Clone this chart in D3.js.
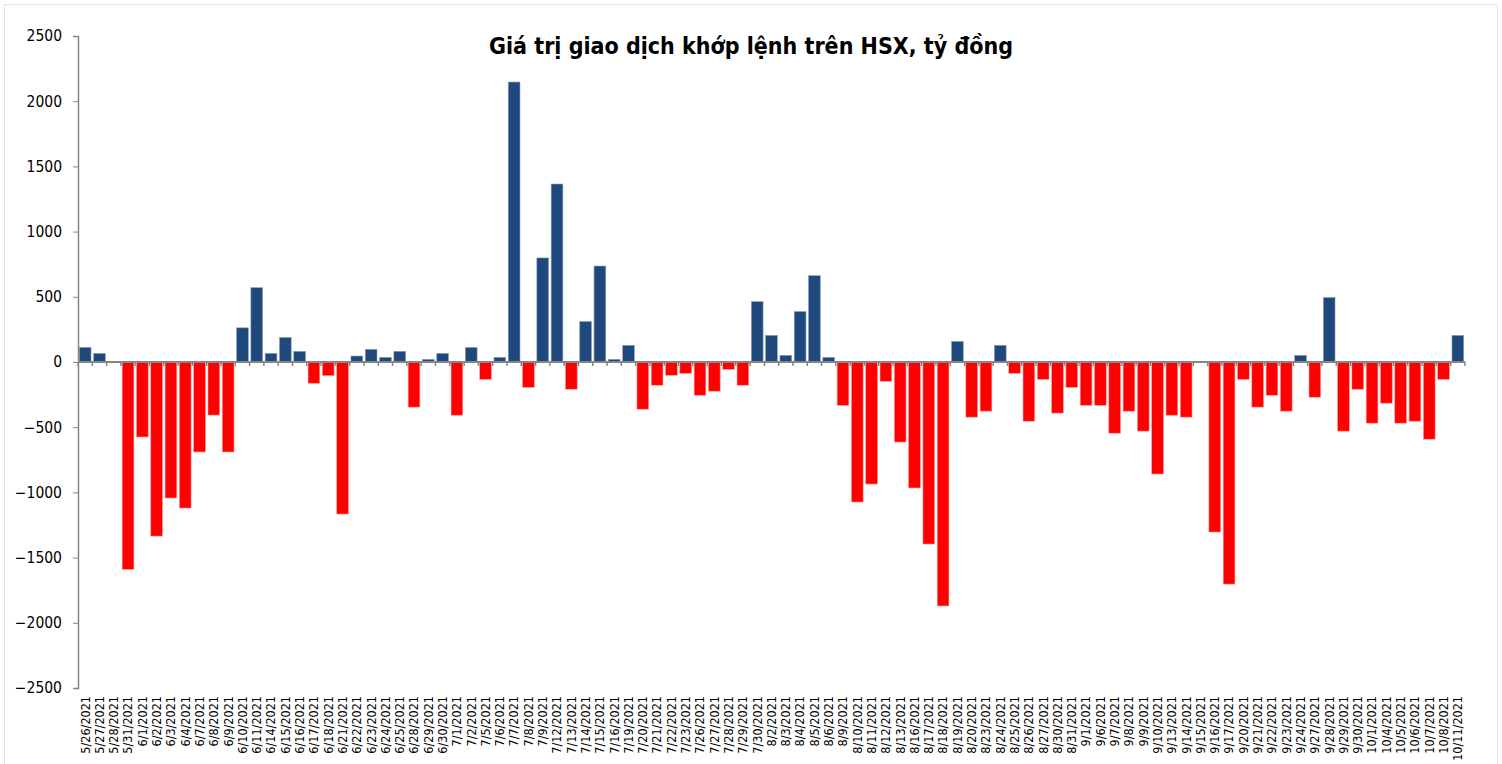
<!DOCTYPE html>
<html lang="vi">
<head>
<meta charset="utf-8">
<style>
body {
  margin: 0;
  background: #fff;
}
svg {
  display: block;
}
.axis text {
  fill: #000;
  font-family: "DejaVu Sans Condensed", "DejaVu Sans", sans-serif;
}
.axis path, .axis line {
  stroke: #868686;
}
.title {
  font: bold 23px "DejaVu Sans Condensed", "DejaVu Sans", sans-serif;
  fill: #000;
}
</style>
</head>
<body>
<svg width="1502" height="764"></svg>
<script src="https://cdn.jsdelivr.net/npm/d3@7/dist/d3.min.js"></script>
<script>
  // ngày giao dịch
  var dates = [
    "5/26/2021", "5/27/2021", "5/28/2021", "5/31/2021",
    "6/1/2021", "6/2/2021", "6/3/2021", "6/4/2021", "6/7/2021", "6/8/2021", "6/9/2021",
    "6/10/2021", "6/11/2021", "6/14/2021", "6/15/2021", "6/16/2021", "6/17/2021", "6/18/2021",
    "6/21/2021", "6/22/2021", "6/23/2021", "6/24/2021", "6/25/2021", "6/28/2021", "6/29/2021", "6/30/2021",
    "7/1/2021", "7/2/2021", "7/5/2021", "7/6/2021", "7/7/2021", "7/8/2021", "7/9/2021",
    "7/12/2021", "7/13/2021", "7/14/2021", "7/15/2021", "7/16/2021", "7/19/2021", "7/20/2021",
    "7/21/2021", "7/22/2021", "7/23/2021", "7/26/2021", "7/27/2021", "7/28/2021", "7/29/2021", "7/30/2021",
    "8/2/2021", "8/3/2021", "8/4/2021", "8/5/2021", "8/6/2021", "8/9/2021", "8/10/2021",
    "8/11/2021", "8/12/2021", "8/13/2021", "8/16/2021", "8/17/2021", "8/18/2021", "8/19/2021",
    "8/20/2021", "8/23/2021", "8/24/2021", "8/25/2021", "8/26/2021", "8/27/2021", "8/30/2021", "8/31/2021",
    "9/1/2021", "9/6/2021", "9/7/2021", "9/8/2021", "9/9/2021", "9/10/2021", "9/13/2021",
    "9/14/2021", "9/15/2021", "9/16/2021", "9/17/2021", "9/20/2021", "9/21/2021", "9/22/2021",
    "9/23/2021", "9/24/2021", "9/27/2021", "9/28/2021", "9/29/2021", "9/30/2021",
    "10/1/2021", "10/4/2021", "10/5/2021", "10/6/2021", "10/7/2021", "10/8/2021", "10/11/2021"
  ];

  // giá trị mua/bán ròng, tỷ đồng
  var values = [
    112, 66, -5, -1590,
    -575, -1335, -1043, -1120, -690, -407, -690,
    262, 570, 66, 188, 82, -163, -105,
    -1166, 46, 97, 36, 82, -346, 20, 66,
    -408, 112, -133, 36, 2147, -194, 798,
    1365, -209, 310, 736, 20, 128, -362,
    -178, -102, -87, -255, -224, -56, -178, 463,
    204, 51, 387, 662, 36, -332, -1074,
    -936, -148, -614, -966, -1396, -1871, 158,
    -423, -377, 128, -87, -454, -133, -392, -194,
    -332, -332, -546, -377, -530, -859, -408,
    -423, -5, -1304, -1703, -133, -346, -255,
    -377, 51, -270, 494, -530, -209,
    -469, -316, -469, -454, -592, -133, 204
  ];

  var yTicks = [-2500, -2000, -1500, -1000, -500, 0, 500, 1000, 1500, 2000, 2500];

  var data = dates.map(function(d, i) { return { date: d, value: values[i] }; });

  var svg = d3.select("svg"),
      width = +svg.attr("width"),
      height = +svg.attr("height");

  var plotLeft = 78, plotRight = 1465, plotTop = 36, plotBottom = 688;

  var x = d3.scaleBand()
      .domain(dates)
      .range([plotLeft, plotRight])
      .paddingInner(0.18)
      .paddingOuter(0.09);

  var y = d3.scaleLinear()
      .domain([-2500, 2500])
      .range([plotBottom, plotTop]);

  // khung
  svg.append("rect")
      .attr("x", 4.5)
      .attr("y", 4.5)
      .attr("width", width - 9)
      .attr("height", height)
      .attr("fill", "#fff")
      .attr("stroke", "#e4e4e4");

  svg.append("text")
      .attr("class", "title")
      .attr("x", 751)
      .attr("y", 54)
      .attr("text-anchor", "middle")
      .text("Giá  trị giao  dịch  khớp  lệnh  trên HSX,  tỷ đồng");

  // cột
  svg.append("g")
    .selectAll("rect")
    .data(data)
    .enter().append("rect")
      .attr("x", function(d) { return x(d.date); })
      .attr("width", x.bandwidth())
      .attr("y", function(d) { return y(Math.max(0, d.value)); })
      .attr("height", function(d) { return Math.abs(y(d.value) - y(0)); })
      .attr("fill", function(d) { return d.value >= 0 ? "#1f497d" : "#ff0000"; })
      .attr("stroke", function(d) { return d.value >= 0 ? "#8aa0bd" : "#ff9c9c"; })
      .attr("stroke-width", 0.6);

  // trục tung
  svg.append("g")
      .attr("class", "axis axis--y")
      .attr("transform", "translate(" + plotLeft + ",0)")
      .call(d3.axisLeft(y).tickValues(yTicks).tickFormat(d3.format("d"))
        .tickSize(5).tickSizeOuter(5).tickPadding(11))
      .call(function(g) {
        g.select(".domain").attr("stroke-width", 1.5);
        g.selectAll("text").style("font-size", "15.5px");
      });

  // đường 0 và vạch chia giữa các cột
  var step = x.step();
  var bounds = dates.map(function(d) { return x(d) - step * x.paddingInner() / 2; });
  bounds.push(plotRight);

  var zero = svg.append("g").attr("class", "axis axis--zero");
  zero.append("line")
      .attr("x1", plotLeft)
      .attr("x2", plotRight)
      .attr("y1", y(0))
      .attr("y2", y(0))
      .attr("stroke-width", 2);
  zero.selectAll("line.tick")
    .data(bounds)
    .enter().append("line")
      .attr("class", "tick")
      .attr("x1", function(d) { return d; })
      .attr("x2", function(d) { return d; })
      .attr("y1", y(0))
      .attr("y2", y(0) + 4)
      .attr("stroke-width", 1.5);

  // nhãn ngày
  svg.append("g")
      .attr("class", "axis axis--x")
      .attr("transform", "translate(0," + (plotBottom + 8) + ")")
      .call(d3.axisBottom(x).tickSize(0).tickPadding(0))
      .call(function(g) {
        g.select(".domain").remove();
        g.selectAll("text")
          .style("font-size", "12.5px")
          .attr("text-anchor", "end")
          .attr("dy", "0.35em")
          .attr("transform", "rotate(-90)")
          .attr("x", 0)
          .attr("y", 0);
      });
</script>
</body>
</html>
